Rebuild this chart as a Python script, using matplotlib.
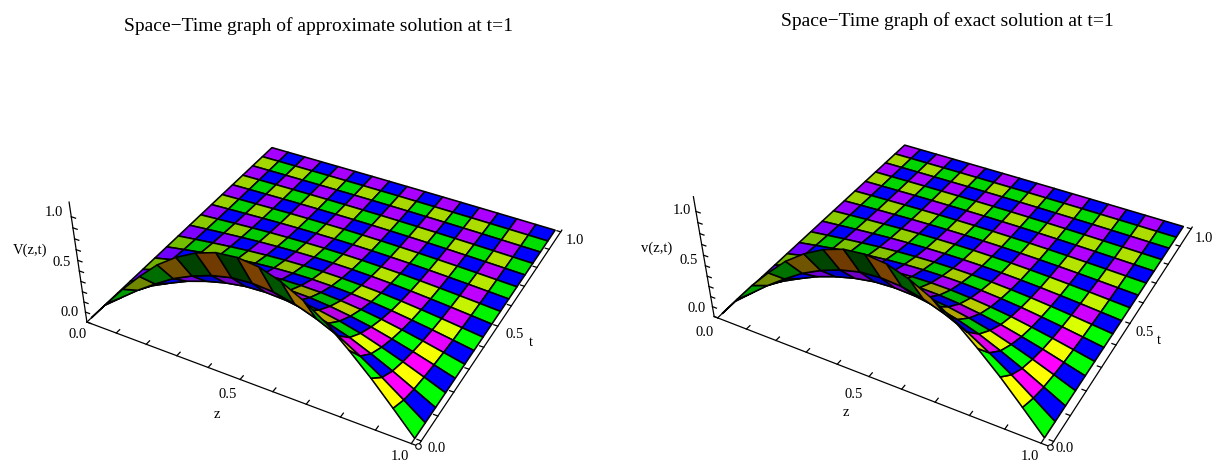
import numpy as np, matplotlib
matplotlib.use('Agg')
import matplotlib.pyplot as plt

W, H = 1215, 463
plt.rcParams['font.family'] = ['Liberation Serif', 'DejaVu Serif']

# ---- data ----
z_grid = [0, .0625, .125, .1875, .25, .3125, .375, .4375, .5, .5625, .625, .6875, .75, .8125, .875, .9375, 1]
t_grid = [0, .0625, .125, .1875, .25, .3125, .375, .4375, .5, .5625, .625, .6875, .75, .8125, .875, .9375, 1]
z_profile = [0, .21, .415, .60, .77, .90, 1.00, 1.065, 1.085, 1.065, 1.00, .90, .77, .60, .415, .21, 0]
t_profile_approx = [1, .68, .49, .37, .28, .21, .155, .115, .085, .062, .045, .033, .024, .017, .012, .008, .005]
t_profile_exact = [1, .70, .50, .37, .27, .20, .15, .11, .08, .06, .043, .031, .022, .016, .011, .007, .004]
tick_values = [0, .1, .2, .3, .4, .5, .6, .7, .8, .9, 1.0]
titles = ['Space\u2212Time graph of approximate solution at t=1',
          'Space\u2212Time graph of exact solution at t=1']
v_labels = ['V(z,t)', 'v(z,t)']
tick_text = ['0.0', '0.5', '1.0']

# ---- base colours of the checker cells ----
PURPLE, BLUE, YELLOW, GREEN = (1, 0, 1), (0, 0, 1), (1, 1, 0), (0, 1, 0)

# ---- camera and layout of the two panels ----
VIEWS = [dict(el=35.821, az=-61.626, f=.4863, roll=.288, bz=.361, s=2693.64, tx=332.87, ty=222.14,
              x0=0.0, toff=.018, zoff=-.02),
         dict(el=35.934, az=-61.189, f=.4353, roll=.478, bz=.362, s=2683.22, tx=962.99, ty=218.36,
              x0=-.012, toff=.025, zoff=-.02)]
TITLE_POS = [(318, 26), (947, 21)]
V_TICK_POS = [[(70, 312), (62, 263), (54, 212)], [(697, 309), (689, 261), (682, 210)]]
Z_TICK_POS = [[(78, 335), (228, 394), (400, 457)], [(705, 333), (854, 395), (1030, 457)]]
T_TICK_POS = [[(437, 448), (515, 334), (575, 240)], [(1065, 448), (1145, 333), (1204, 238)]]
Z_LABEL_POS = [(217, 415), (846, 413)]
T_LABEL_POS = [(531, 343), (1159, 340)]
V_LABEL_POS = [(30, 250), (657, 248)]


def cell_colors(z, t, v):
    gz = np.diff(v, axis=0)[:, :-1] / np.diff(z)[:, None]
    gz = (gz + np.diff(v, axis=0)[:, 1:] / np.diff(z)[:, None]) / 2
    gt = np.diff(v, axis=1)[:-1, :] / np.diff(t)[None, :]
    gt = (gt + np.diff(v, axis=1)[1:, :] / np.diff(t)[None, :]) / 2
    norm = np.sqrt(gz ** 2 + gt ** 2 + 1)
    nz, nt = -gz / norm, -gt / norm
    back = np.clip(nt, 0, 1) ** 4
    r = np.clip(.66 + .50 * nz - .22 * back, .44, 1)
    g = np.clip(.85 + .45 * np.maximum(nz, 0) + .25 * np.minimum(nz, 0) - .66 * back, .19, 1)
    b = np.clip(1 - .30 * back, 0, 1)
    n = len(z) - 1
    out = np.zeros((n, n, 4))
    for i in range(n):
        for j in range(n):
            rr = n - 1 - j
            base = {(0, 0): PURPLE, (1, 0): BLUE, (0, 1): YELLOW, (1, 1): GREEN}[(i % 2, rr % 2)]
            out[i, j] = (base[0] * r[i, j], base[1] * g[i, j], base[2] * b[i, j], 1)
    return out


def px_text(pos, s, size=10.5):
    fig.text(pos[0] / W, 1 - pos[1] / H, s, ha='center', va='center', fontsize=size)


fig = plt.figure(figsize=(W / 100, H / 100), dpi=100)

for k, t_profile in enumerate([t_profile_approx, t_profile_exact]):
    vw = VIEWS[k]
    S = vw['s'] * .185
    left = vw['tx'] - .095 * vw['s']
    top = vw['ty'] - .09 * vw['s']
    ax = fig.add_axes([left / W, 1 - (top + S) / H, S / W, S / H], projection='3d')
    ax.set_xlim(0, 1); ax.set_ylim(0, 1); ax.set_zlim(0, 1)
    ax.view_init(vw['el'], vw['az'], vw['roll'])
    ax.set_proj_type('persp', focal_length=vw['f'])
    ax.set_box_aspect((1, 1, vw['bz']))
    ax.set_axis_off()

    z = np.array(z_grid); t = np.array(t_grid)
    Z, T = np.meshgrid(z, t, indexing='ij')
    V = np.outer(z_profile, t_profile)
    surf = ax.plot_surface(Z, T, V, facecolors=cell_colors(z, t, V), rstride=1, cstride=1,
                           shade=False, edgecolor='black', linewidth=1.15, antialiased=True)
    surf.set_clip_on(False)

    ax_kw = dict(color='black', lw=.9, clip_on=False)
    x0, xe, y0 = vw['x0'], 1 + vw['toff'], vw['zoff']
    ax.plot([x0, xe], [y0, y0], [0, 0], **ax_kw)
    ax.plot([xe, xe], [y0, 1.01], [0, 0], **ax_kw)
    ax.plot([x0, x0], [y0, y0], [0, 1.13], **ax_kw)
    for tv in tick_values:
        ax.plot([tv, tv], [y0, y0 + .016], [0, 0], **ax_kw)
        ax.plot([xe, xe - .012], [tv, tv], [0, 0], **ax_kw)
        ax.plot([x0, x0 + .014], [y0, y0], [tv, tv], **ax_kw)
    ax.plot([xe], [y0], [0], marker='o', ms=4, mfc='white', mec='black', mew=.8, ls='none', clip_on=False)

    for pos, s in zip(V_TICK_POS[k], tick_text):
        px_text(pos, s)
    for pos, s in zip(Z_TICK_POS[k], tick_text):
        px_text(pos, s)
    for pos, s in zip(T_TICK_POS[k], tick_text):
        px_text(pos, s)
    px_text(Z_LABEL_POS[k], 'z')
    px_text(T_LABEL_POS[k], 't')
    px_text(V_LABEL_POS[k], v_labels[k])
    px_text(TITLE_POS[k], titles[k], size=14)

fig.savefig('out.png', dpi=100)
